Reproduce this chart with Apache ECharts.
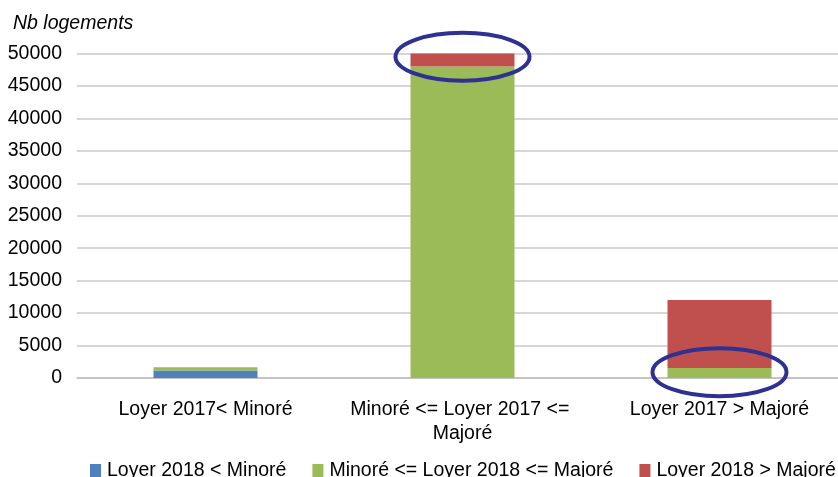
<!DOCTYPE html>
<html>
<head>
<meta charset="utf-8">
<script src="https://cdn.jsdelivr.net/npm/echarts@6/dist/echarts.min.js"></script>
<style>
  html, body { margin: 0; padding: 0; background: #fff; overflow: hidden; }
  #chart { width: 850px; height: 477px; }
</style>
</head>
<body>
<div id="chart"></div>
<script>
// données
var categories = ['Loyer 2017< Minoré', 'Minoré <= Loyer 2017 <= Majoré', 'Loyer 2017 > Majoré'];
var seriesNames = ['Loyer 2018 < Minoré', 'Minoré <= Loyer 2018 <= Majoré', 'Loyer 2018 > Majoré'];
var belowMin = [1150, 0, 0];
var betweenMinMax = [500, 48000, 1550];
var aboveMax = [0, 2100, 10450];
var yTicks = [0, 5000, 10000, 15000, 20000, 25000, 30000, 35000, 40000, 45000, 50000];
var highlights = [[1, 49500], [2, 900]]; // zones entourées

var colors = ['#4F81BD', '#9BBB59', '#C0504D'];
var font = 'Liberation Sans, Arial, sans-serif';
var fs = 19.5;

var myChart = echarts.init(document.getElementById('chart'));

var option = {
    animation: false,
    color: colors,
    textStyle: { fontFamily: font },
    title: {
        text: 'Nb logements',
        left: 8,
        top: 9,
        textStyle: { fontFamily: font, fontSize: fs, fontStyle: 'italic', fontWeight: 'normal', color: '#000' }
    },
    legend: {
        bottom: -9,
        left: 85,
        itemWidth: 11,
        itemHeight: 14,
        itemGap: 26,
        icon: 'rect',
        textStyle: { fontFamily: font, fontSize: fs, color: '#000', padding: [0, 0, 0, 1] },
        data: seriesNames
    },
    grid: {
        left: 77,
        top: 53.5,
        width: 771,
        bottom: 99
    },
    xAxis: {
        type: 'category',
        data: categories,
        axisLine: { lineStyle: { color: '#bfbfbf', width: 1.5 } },
        axisTick: { show: false },
        axisLabel: {
            interval: 0,
            fontFamily: font,
            fontSize: fs,
            color: '#000',
            margin: 20,
            width: 250,
            overflow: 'break',
            lineHeight: 24
        }
    },
    yAxis: {
        type: 'value',
        min: yTicks[0],
        max: yTicks[yTicks.length - 1],
        interval: yTicks[1] - yTicks[0],
        axisLine: { show: false },
        axisTick: { show: false },
        splitLine: { lineStyle: { color: '#c8c8c8', width: 1.5 } },
        axisLabel: {
            fontFamily: font,
            fontSize: fs,
            color: '#000',
            margin: 15,
            formatter: function (v) { return String(v); }
        }
    },
    series: [
        { name: seriesNames[0], type: 'bar', stack: 'total', barWidth: 104, data: belowMin },
        { name: seriesNames[1], type: 'bar', stack: 'total', barWidth: 104, data: betweenMinMax },
        { name: seriesNames[2], type: 'bar', stack: 'total', barWidth: 104, data: aboveMax }
    ]
};
myChart.setOption(option);

// ellipses de mise en évidence
var ellipses = highlights.map(function (h) {
    var p = myChart.convertToPixel({ gridIndex: 0 }, [categories[h[0]], h[1]]);
    return {
        type: 'ellipse',
        shape: { cx: p[0], cy: p[1], rx: 67, ry: 24 },
        style: { fill: null, stroke: '#2E3192', lineWidth: 4 },
        z: 100
    };
});
myChart.setOption({ graphic: ellipses });
</script>
</body>
</html>
